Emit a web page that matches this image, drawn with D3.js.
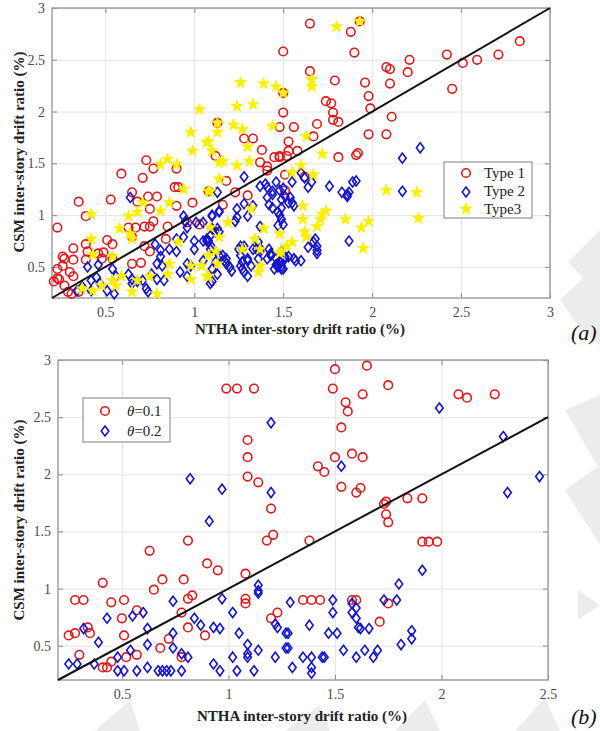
<!DOCTYPE html>
<html>
<head>
<meta charset="utf-8">
<script src="https://cdn.jsdelivr.net/npm/d3@7"></script>
<style>
  body { margin: 0; background: #fff; }
  svg text { font-family: "Liberation Serif", "Times New Roman", serif; }
</style>
</head>
<body>
<div id="chart"></div>
<script>
// ---- data ----
// plot (a): [NTHA, CSM]
const type1 = [[1.65,2.85],[1.88,2.77],[1.93,2.87],[1.50,2.58],[1.90,2.57],[1.65,2.39],[1.79,2.30],[1.96,2.28],[1.98,2.15],[1.99,2.03],[1.50,2.18],[1.74,2.10],[1.77,2.08],[1.78,1.99],[1.50,1.99],[1.78,1.92],[1.81,1.90],[1.69,1.88],[1.56,1.85],[1.48,1.85],[1.67,1.76],[1.98,1.78],[1.28,1.74],[1.33,1.74],[1.53,1.71],[1.38,1.63],[1.13,1.89],[1.53,1.62],[1.58,1.62],[1.92,1.60],[2.08,2.43],[2.10,2.41],[2.21,2.50],[2.20,2.38],[2.42,2.55],[2.51,2.47],[2.59,2.50],[2.71,2.55],[2.83,2.68],[2.45,2.22],[2.10,2.27],[2.11,1.95],[2.08,1.78],[1.81,1.56],[1.91,1.58],[1.48,1.57],[0.73,1.53],[0.77,1.45],[1.12,1.57],[1.41,1.47],[1.48,1.56],[0.59,1.40],[0.71,1.36],[0.90,1.45],[0.89,1.27],[0.91,1.27],[0.65,1.22],[0.53,1.15],[0.35,1.13],[0.74,1.18],[0.79,1.18],[0.68,1.13],[0.75,1.06],[0.90,1.09],[0.99,1.12],[0.39,0.99],[0.23,0.88],[0.63,0.88],[0.67,0.88],[0.72,0.89],[0.75,0.89],[0.77,0.94],[0.85,0.89],[0.84,0.77],[0.51,0.76],[0.54,0.72],[0.65,0.79],[0.39,0.72],[0.32,0.68],[0.40,0.65],[0.49,0.64],[0.26,0.60],[0.32,0.57],[0.39,0.57],[0.48,0.58],[0.54,0.58],[0.75,0.65],[0.72,0.70],[0.65,0.53],[0.70,0.54],[0.23,0.48],[0.30,0.45],[0.32,0.41],[0.21,0.36],[0.23,0.39],[0.27,0.32],[0.29,0.26],[0.31,0.24],[0.35,0.26],[1.03,0.91],[0.96,0.93],[0.46,0.63],[0.27,0.58],[0.26,0.51],[0.24,0.38],[1.37,1.51],[1.45,1.56],[1.52,1.57],[1.18,1.33],[1.23,1.22],[1.30,1.19],[1.16,1.10],[1.51,1.39],[1.62,1.37],[1.51,1.24],[1.08,1.23],[1.41,1.43]];

const type2 = [[0.64,1.17],[0.46,0.52],[0.40,0.50],[0.45,0.40],[0.42,0.37],[0.47,0.34],[0.37,0.31],[0.34,0.27],[0.42,0.27],[0.51,0.27],[0.55,0.24],[0.54,0.48],[0.56,0.41],[0.63,0.43],[0.65,0.38],[0.68,0.36],[0.71,0.37],[0.65,0.34],[0.73,0.29],[0.74,0.26],[0.79,0.53],[0.79,0.38],[0.76,0.43],[0.83,0.37],[0.94,0.99],[0.95,0.94],[1.01,0.93],[1.05,0.93],[0.96,0.88],[0.90,0.77],[0.94,0.79],[0.90,0.65],[0.86,0.67],[1.00,0.67],[1.00,0.75],[1.05,0.75],[0.78,0.72],[0.81,0.60],[0.82,0.51],[0.96,0.53],[0.98,0.51],[0.96,0.41],[1.05,0.56],[1.10,0.99],[1.10,0.87],[1.07,0.75],[1.09,0.67],[0.81,0.66],[0.92,0.45],[1.09,0.34],[1.10,0.48],[1.13,0.43],[1.20,0.50],[1.21,0.46],[1.26,0.51],[1.27,0.48],[1.30,0.41],[1.30,0.58],[1.36,0.58],[1.41,0.58],[1.37,0.65],[1.46,0.52],[1.47,0.50],[1.49,0.48],[1.56,0.58],[1.49,0.65],[1.43,0.63],[1.33,0.67],[1.37,0.68],[1.28,0.70],[1.14,0.61],[1.18,0.58],[1.10,0.69],[1.07,0.77],[1.14,0.84],[1.13,0.87],[1.10,1.00],[1.14,1.04],[1.24,1.06],[1.23,0.94],[1.30,0.99],[1.37,1.28],[1.40,1.30],[1.41,1.27],[1.44,1.23],[1.41,1.17],[1.44,1.20],[1.48,1.24],[1.51,1.18],[1.54,1.17],[1.55,1.12],[1.53,1.12],[1.49,1.15],[1.42,1.10],[1.44,1.07],[1.47,1.03],[1.49,1.07],[1.56,1.09],[1.55,1.32],[1.60,1.41],[1.64,1.27],[1.66,1.32],[1.62,1.36],[1.76,1.28],[1.83,1.22],[1.86,1.20],[1.86,1.18],[1.87,1.22],[1.89,1.32],[1.91,1.33],[1.28,1.37],[1.13,1.22],[1.28,1.11],[1.33,1.09],[1.37,0.89],[1.24,0.98],[1.14,1.03],[1.49,0.96],[1.50,0.91],[1.12,0.84],[1.09,0.80],[1.08,0.75],[1.16,0.61],[1.17,0.56],[1.12,0.55],[1.18,0.53],[1.26,0.70],[1.25,0.67],[1.26,0.61],[1.27,0.55],[1.30,0.56],[1.32,0.51],[1.28,0.45],[1.36,0.74],[1.35,0.67],[1.42,0.67],[1.43,0.61],[1.46,0.58],[1.47,0.53],[1.48,0.55],[1.49,0.51],[1.51,0.58],[1.53,0.60],[1.57,0.56],[1.60,0.56],[1.50,0.48],[1.45,0.48],[1.68,0.77],[1.67,0.74],[1.69,0.70],[1.69,0.66],[1.69,0.63],[1.87,0.75],[1.10,0.36],[2.17,1.23],[2.17,1.55],[2.27,1.65],[1.51,0.60],[1.64,0.69],[1.48,1.00],[1.47,0.90],[1.50,1.26],[1.46,1.32]];

const type3 = [[1.80,2.82],[1.66,2.31],[1.66,2.24],[1.63,1.76],[1.72,1.59],[1.93,2.87],[1.50,2.18],[1.26,2.28],[1.39,2.27],[1.46,2.24],[1.24,2.05],[1.33,2.07],[1.13,1.89],[1.22,1.87],[1.27,1.83],[1.13,1.80],[1.44,1.86],[1.08,1.71],[1.30,1.66],[1.10,1.62],[1.03,2.02],[0.98,1.80],[1.07,1.70],[0.99,1.62],[0.85,1.54],[0.81,1.49],[1.14,1.51],[1.24,1.48],[1.31,1.52],[0.90,1.49],[0.94,1.25],[1.08,1.23],[0.86,1.12],[0.71,1.12],[0.81,1.04],[0.68,1.03],[0.63,0.99],[0.42,1.01],[0.58,0.87],[0.64,0.82],[0.65,0.77],[0.42,0.77],[0.43,0.62],[0.54,0.60],[0.91,0.74],[0.86,0.53],[0.75,0.41],[0.85,0.43],[0.98,0.51],[1.04,0.51],[1.07,0.41],[0.98,0.38],[0.54,0.37],[0.56,0.32],[0.65,0.26],[0.79,0.24],[0.43,0.27],[0.48,0.32],[0.37,0.29],[0.59,0.41],[0.68,0.37],[1.09,0.88],[1.08,0.61],[1.16,1.52],[1.14,1.35],[1.09,1.23],[1.55,1.41],[1.67,1.39],[1.32,1.06],[1.61,1.09],[1.74,1.04],[1.72,1.01],[1.71,0.96],[1.61,0.96],[1.85,0.96],[1.98,0.94],[1.94,0.88],[1.69,0.89],[1.19,0.93],[1.39,0.87],[1.48,0.82],[1.62,0.84],[1.63,0.79],[1.55,0.74],[1.34,0.77],[1.27,0.67],[1.37,0.67],[1.49,0.65],[1.48,0.63],[1.95,0.68],[1.14,0.79],[1.12,0.65],[1.13,0.53],[1.37,0.51],[1.36,0.45],[1.08,0.41],[2.08,1.24],[2.25,1.22],[2.26,0.97],[1.52,0.70],[1.60,1.48]];

// plot (b)
const theta01 = [[0.99,2.75],[1.04,2.75],[1.12,2.75],[1.09,2.30],[1.09,2.15],[1.09,1.98],[1.14,1.93],[1.20,1.70],[1.21,1.47],[1.18,1.42],[0.81,1.42],[1.50,2.92],[1.65,2.95],[1.49,2.75],[1.63,2.70],[1.75,2.78],[1.55,2.63],[1.56,2.55],[1.53,2.41],[2.08,2.70],[2.12,2.67],[2.25,2.70],[1.50,2.15],[1.58,2.18],[1.63,2.15],[1.42,2.07],[1.45,2.02],[1.53,1.89],[1.60,1.84],[1.62,1.88],[1.84,1.79],[1.91,1.79],[1.74,1.76],[1.73,1.74],[1.74,1.65],[1.38,1.42],[1.91,1.41],[1.94,1.41],[1.98,1.41],[0.25,0.59],[0.28,0.61],[0.28,0.90],[0.32,0.90],[0.30,0.42],[0.34,0.66],[0.35,0.61],[0.41,1.05],[0.45,0.88],[0.51,0.90],[0.50,0.74],[0.51,0.59],[0.57,0.81],[0.52,0.40],[0.57,0.42],[0.41,0.31],[0.43,0.31],[0.45,0.36],[0.63,1.33],[0.65,0.99],[0.69,1.08],[0.79,1.08],[0.81,0.91],[0.83,0.94],[0.78,0.79],[0.81,0.66],[0.89,0.59],[0.68,0.48],[0.72,0.56],[0.78,0.40],[0.90,1.22],[0.95,1.16],[1.08,1.13],[1.08,0.91],[1.08,0.87],[1.20,0.74],[1.23,0.79],[1.75,1.58],[1.75,0.87],[1.71,0.71],[1.35,0.90],[1.39,0.90],[1.43,0.90],[1.58,0.90],[1.60,0.90]];

const theta02 = [[0.82,1.96],[0.97,1.87],[0.91,1.59],[1.20,2.45],[1.20,1.84],[1.99,2.58],[2.29,2.33],[1.53,2.07],[2.46,1.98],[2.31,1.84],[1.91,1.16],[1.80,1.04],[1.73,0.90],[1.79,0.90],[1.49,0.90],[1.49,0.79],[1.58,0.87],[1.60,0.83],[1.58,0.79],[1.60,0.74],[1.61,0.66],[1.62,0.65],[1.66,0.65],[1.38,0.68],[1.47,0.61],[1.51,0.61],[1.29,0.88],[1.27,0.61],[1.27,0.48],[1.35,0.40],[1.39,0.40],[1.44,0.40],[1.45,0.40],[1.30,0.31],[1.39,0.31],[1.39,0.26],[1.54,0.46],[1.60,0.40],[1.64,0.46],[1.68,0.40],[1.70,0.46],[1.81,0.51],[1.86,0.63],[1.86,0.56],[0.25,0.34],[0.29,0.34],[0.32,0.65],[0.39,0.53],[0.37,0.34],[0.43,0.74],[0.48,0.40],[0.48,0.28],[0.51,0.28],[0.54,0.46],[0.55,0.76],[0.57,0.28],[0.60,0.79],[0.62,0.65],[0.62,0.51],[0.62,0.31],[0.67,0.28],[0.69,0.28],[0.71,0.28],[0.73,0.28],[0.74,0.89],[0.74,0.61],[0.74,0.48],[0.78,0.28],[0.78,0.43],[0.81,0.40],[0.84,0.74],[0.87,0.68],[0.93,0.66],[0.96,0.65],[0.93,0.34],[0.96,0.28],[0.97,0.91],[1.02,0.79],[1.02,0.40],[1.04,0.28],[1.05,0.61],[1.09,0.51],[1.09,0.43],[1.09,0.40],[1.12,0.28],[1.14,0.46],[1.14,1.03],[1.14,0.98],[1.14,0.96],[1.22,0.69],[1.23,0.66],[1.22,0.40],[1.28,0.61],[1.28,0.48]];

const ticksA = [0.5, 1, 1.5, 2, 2.5, 3];
const ticksBx = [0.5, 1, 1.5, 2, 2.5];
const ticksBy = [0.5, 1, 1.5, 2, 2.5, 3];
const legendA = ["Type 1", "Type 2", "Type3"];
const legendB = ["0.1", "0.2"];

const xLabel = "NTHA inter-story drift ratio (%)";
const yLabel = "CSM inter-story drift ratio (%)";

const RED = "#e0191c", BLUE = "#1515cc", YELLOW = "#fbef00";

const svg = d3.select("#chart").append("svg")
  .attr("width", 600)
  .attr("height", 731);

// faint watermark shapes from the page behind the figure
const marks = [
  [[568,262],[600,230],[600,296]],
  [[560,300],[600,262],[600,345],[585,335]],
  [[565,410],[600,395],[600,470]],
  [[565,490],[600,465],[600,545]],
  [[578,590],[600,605],[578,620]],
  [[95,731],[130,700],[140,731]],
  [[285,731],[320,705],[330,731]],
  [[395,731],[425,700],[440,731]],
  [[515,731],[545,698],[560,731]]
];
svg.append("g").selectAll("path")
  .data(marks)
  .join("path")
    .attr("d", d => "M" + d.join("L") + "Z")
    .attr("fill", "#ececec");

const diamond = "M0,-5L3.8,0L0,5L-3.8,0Z";
const star = d3.symbol(d3.symbolStar, 44)();
const fmt = d => String(d);

function drawPlot(box, xDomain, yDomain, xTicks, yTicks) {
  const x = d3.scaleLinear().domain(xDomain).range([box.left, box.right]);
  const y = d3.scaleLinear().domain(yDomain).range([box.bottom, box.top]);
  const w = box.right - box.left, h = box.bottom - box.top;
  const g = svg.append("g");

  // grid
  g.append("g")
    .attr("transform", `translate(0,${box.bottom})`)
    .call(d3.axisBottom(x).tickValues(xTicks).tickSize(-h).tickFormat(""))
    .call(a => a.select(".domain").remove())
    .selectAll("line").attr("stroke", "#e4e4e4");
  g.append("g")
    .attr("transform", `translate(${box.left},0)`)
    .call(d3.axisLeft(y).tickValues(yTicks).tickSize(-w).tickFormat(""))
    .call(a => a.select(".domain").remove())
    .selectAll("line").attr("stroke", "#e4e4e4");

  // inward ticks + labels
  const bottom = g.append("g")
    .attr("transform", `translate(0,${box.bottom})`)
    .call(d3.axisBottom(x).tickValues(xTicks).tickFormat(fmt).tickSizeInner(-5).tickSizeOuter(0).tickPadding(9));
  const left = g.append("g")
    .attr("transform", `translate(${box.left},0)`)
    .call(d3.axisLeft(y).tickValues(yTicks).tickFormat(fmt).tickSizeInner(-5).tickSizeOuter(0).tickPadding(7));
  const top = g.append("g")
    .attr("transform", `translate(0,${box.top})`)
    .call(d3.axisTop(x).tickValues(xTicks).tickSizeInner(-5).tickSizeOuter(0).tickFormat(""));
  const right = g.append("g")
    .attr("transform", `translate(${box.right},0)`)
    .call(d3.axisRight(y).tickValues(yTicks).tickSizeInner(-5).tickSizeOuter(0).tickFormat(""));
  [bottom, left, top, right].forEach(a => {
    a.select(".domain").remove();
    a.selectAll("line").attr("stroke", "#8a8a8a");
    a.selectAll("text")
      .attr("font-size", 14)
      .attr("fill", "#4a4a4a");
  });

  g.append("rect")
    .attr("x", box.left).attr("y", box.top)
    .attr("width", w).attr("height", h)
    .attr("fill", "none")
    .attr("stroke", "#9a9a9a")
    .attr("stroke-width", 1.4);

  return { x, y, g };
}

function circles(p, data) {
  p.g.append("g").selectAll("circle")
    .data(data)
    .join("circle")
      .attr("cx", d => p.x(d[0]))
      .attr("cy", d => p.y(d[1]))
      .attr("r", 4.3)
      .attr("fill", "none")
      .attr("stroke", RED)
      .attr("stroke-width", 1.6);
}
function diamonds(p, data) {
  p.g.append("g").selectAll("path")
    .data(data)
    .join("path")
      .attr("d", diamond)
      .attr("transform", d => `translate(${p.x(d[0])},${p.y(d[1])})`)
      .attr("fill", "none")
      .attr("stroke", BLUE)
      .attr("stroke-width", 1.6);
}
function stars(p, data) {
  p.g.append("g").selectAll("path")
    .data(data)
    .join("path")
      .attr("d", star)
      .attr("transform", d => `translate(${p.x(d[0])},${p.y(d[1])})`)
      .attr("fill", YELLOW)
      .attr("stroke", YELLOW)
      .attr("stroke-width", 0.8);
}
function diagonal(p, lo, hi) {
  p.g.append("line")
    .attr("x1", p.x(lo)).attr("y1", p.y(lo))
    .attr("x2", p.x(hi)).attr("y2", p.y(hi))
    .attr("stroke", "#111")
    .attr("stroke-width", 2);
}
function labels(xl, yl) {
  svg.append("text")
    .attr("x", xl.x).attr("y", xl.y)
    .attr("text-anchor", "middle")
    .attr("font-weight", "bold")
    .attr("font-size", 15)
    .attr("fill", "#222")
    .text(xLabel);
  svg.append("text")
    .attr("transform", `translate(${yl.x},${yl.y}) rotate(-90)`)
    .attr("text-anchor", "middle")
    .attr("font-weight", "bold")
    .attr("font-size", 15)
    .attr("fill", "#222")
    .text(yLabel);
}

// ---- plot (a) ----
const boxA = { left: 52, right: 550, top: 8, bottom: 298 };
const pA = drawPlot(boxA, [0.2, 3], [0.2, 3], ticksA, ticksA);
circles(pA, type1);
diamonds(pA, type2);
stars(pA, type3);
diagonal(pA, 0.2, 3);
labels({ x: 300, y: 334 }, { x: 24, y: 152 });

const legA = svg.append("g");
legA.append("rect")
  .attr("x", 444).attr("y", 162).attr("width", 88).attr("height", 56)
  .attr("fill", "#fff").attr("stroke", "#808080").attr("stroke-width", 1);
legA.append("circle").attr("cx", 466).attr("cy", 173).attr("r", 4.3)
  .attr("fill", "none").attr("stroke", RED).attr("stroke-width", 1.6);
legA.append("path").attr("d", diamond).attr("transform", "translate(466,192)")
  .attr("fill", "none").attr("stroke", BLUE).attr("stroke-width", 1.6);
legA.append("path").attr("d", star).attr("transform", "translate(466,209)")
  .attr("fill", YELLOW).attr("stroke", YELLOW).attr("stroke-width", 0.8);
legA.selectAll("text")
  .data(legendA)
  .join("text")
    .attr("x", 484)
    .attr("y", (d, i) => 178 + i * 18)
    .attr("font-size", 15)
    .attr("fill", "#222")
    .text(d => d);

svg.append("text")
  .attr("x", 571).attr("y", 340)
  .attr("font-size", 22).attr("font-style", "italic").attr("fill", "#111")
  .text("(a)");

// ---- plot (b) ----
const boxB = { left: 58, right: 548, top: 360, bottom: 680 };
const pB = drawPlot(boxB, [0.2, 2.5], [0.2, 3], ticksBx, ticksBy);
circles(pB, theta01);
diamonds(pB, theta02);
diagonal(pB, 0.2, 2.5);
labels({ x: 302, y: 721 }, { x: 24, y: 520 });

const legB = svg.append("g");
legB.append("rect")
  .attr("x", 83).attr("y", 398).attr("width", 87).attr("height", 44)
  .attr("fill", "#fff").attr("stroke", "#808080").attr("stroke-width", 1);
legB.append("circle").attr("cx", 105).attr("cy", 411).attr("r", 4.3)
  .attr("fill", "none").attr("stroke", RED).attr("stroke-width", 1.6);
legB.append("path").attr("d", diamond).attr("transform", "translate(105,431)")
  .attr("fill", "none").attr("stroke", BLUE).attr("stroke-width", 1.6);
const legBt = legB.selectAll("text")
  .data(legendB)
  .join("text")
    .attr("x", 127)
    .attr("y", (d, i) => 416 + i * 20)
    .attr("font-size", 15)
    .attr("fill", "#222");
legBt.append("tspan").attr("font-style", "italic").text("θ");
legBt.append("tspan").text(d => "=" + d);

svg.append("text")
  .attr("x", 571).attr("y", 724)
  .attr("font-size", 22).attr("font-style", "italic").attr("fill", "#111")
  .text("(b)");
</script>
</body>
</html>
